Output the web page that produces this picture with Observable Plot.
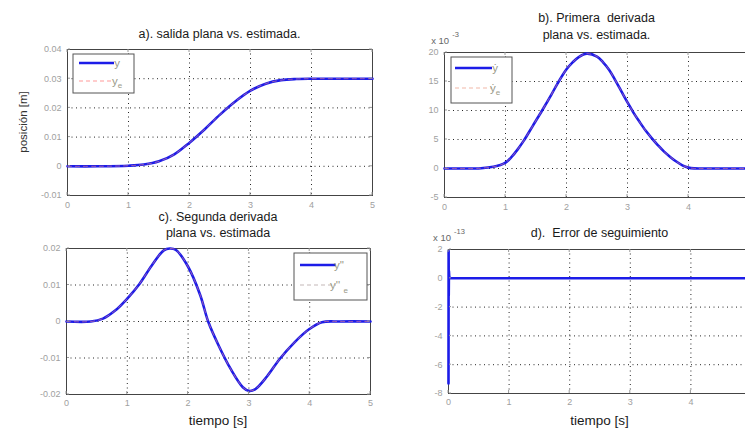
<!DOCTYPE html>
<html><head><meta charset="utf-8">
<script src="https://cdn.jsdelivr.net/npm/d3@7"></script>
<script src="https://cdn.jsdelivr.net/npm/@observablehq/plot@0.6"></script>
<style>
html,body{margin:0;padding:0;overflow:hidden;background:#fff;}
#wrap{position:relative;width:745px;height:429px;overflow:hidden;font-family:"Liberation Sans",Arial,sans-serif;}
#wrap svg{position:absolute;overflow:visible;}
</style></head><body><div id="wrap"></div>
<script>
// ---- data ----
const xTicksLeft = [0, 1, 2, 3, 4, 5];
const xTicksRight = [0, 1, 2, 3, 4];   // the "5" of the right column falls outside the picture

// a) flat output y and estimate y_e  [m]
const tA  = [0, 0.5, 1, 1.25, 1.5, 1.75, 2, 2.25, 2.5, 2.75, 3, 3.25, 3.5, 3.75, 4, 4.5, 5];
const yA  = [0, 0, 0.0002, 0.0006, 0.0017, 0.0041, 0.0081, 0.0127, 0.0177, 0.0222, 0.0259, 0.0283, 0.0295, 0.0299, 0.0300, 0.0300, 0.0300];
const yeA = [0, 0, 0.0002, 0.0006, 0.0017, 0.0041, 0.0081, 0.0127, 0.0177, 0.0222, 0.0259, 0.0283, 0.0295, 0.0299, 0.0300, 0.0300, 0.0300];
const yTicksA = [-0.01, 0, 0.01, 0.02, 0.03, 0.04];

// b) first derivative (x 10^-3)
const tB  = [0, 0.5, 0.6, 0.8, 0.9, 1, 1.1, 1.2, 1.3, 1.45, 1.6, 1.75, 1.85, 2, 2.1, 2.2, 2.33, 2.5, 2.6, 2.7, 2.8, 2.9, 3, 3.1, 3.2, 3.3, 3.4, 3.5, 3.6, 3.7, 3.8, 3.9, 4, 4.1, 4.2, 5];
const yB  = [0, 0, 0.05, 0.3, 0.55, 1.0, 2.0, 3.3, 4.8, 7.4, 10, 12.7, 14.6, 17.1, 18.3, 19.2, 19.8, 19.3, 18.3, 17.0, 15.2, 13.3, 11.4, 9.6, 8.0, 6.5, 5.2, 4.0, 2.9, 2.0, 1.2, 0.55, 0.15, 0.02, 0, 0];
const yeB = [0, 0, 0.05, 0.3, 0.55, 1.0, 2.0, 3.3, 4.8, 7.4, 10, 12.7, 14.6, 17.1, 18.3, 19.2, 19.8, 19.3, 18.3, 17.0, 15.2, 13.3, 11.4, 9.6, 8.0, 6.5, 5.2, 4.0, 2.9, 2.0, 1.2, 0.55, 0.15, 0.02, 0, 0];
const yTicksB = [-5, 0, 5, 10, 15, 20];

// c) second derivative
const tC  = [0, 0.4, 0.6, 0.8, 1, 1.2, 1.4, 1.6, 1.7, 1.8, 2, 2.2, 2.33, 2.5, 2.7, 2.9, 3, 3.1, 3.3, 3.5, 3.75, 4, 4.2, 4.5, 5];
const yC  = [0, 0, 0.0008, 0.003, 0.0063, 0.0103, 0.0153, 0.0195, 0.0200, 0.0196, 0.0150, 0.0072, 0, -0.0065, -0.0130, -0.0180, -0.0190, -0.0186, -0.0150, -0.0104, -0.0057, -0.0020, -0.0002, 0, 0];
const yeC = [0, 0, 0.0008, 0.003, 0.0063, 0.0103, 0.0153, 0.0195, 0.0200, 0.0196, 0.0150, 0.0072, 0, -0.0065, -0.0130, -0.0180, -0.0190, -0.0186, -0.0150, -0.0104, -0.0057, -0.0020, -0.0002, 0, 0];
const yTicksC = [-0.02, -0.01, 0, 0.01, 0.02];

// d) tracking error (x 10^-13)
const tD = [0, 0.002, 0.004, 0.007, 0.012, 0.03, 1, 2, 3, 4, 5];
const eD = [-7.3, 1.9, -1.2, 0.5, 0.1, 0, 0, 0, 0, 0, 0];
const yTicksD = [-8, -6, -4, -2, 0, 2];

// ---- drawing ----
const FONT = "Liberation Sans, Arial, sans-serif";
const wrap = document.getElementById("wrap");
const fmt = d => d === 0 ? "0" : String(+d.toFixed(3));

function panel(c) {
  const series = c.t.map((t, i) => ({t, y: c.y[i], ye: c.ye ? c.ye[i] : null}));
  const marks = [
    Plot.ruleX(c.gridX, {stroke: "#000", strokeDasharray: "1,3.5", strokeWidth: 1, strokeOpacity: 0.85}),
    Plot.ruleY(c.gridY, {stroke: "#000", strokeDasharray: "1,3.5", strokeWidth: 1, strokeOpacity: 0.85}),
    Plot.frame({stroke: "#444", strokeWidth: 1}),
    Plot.line(series, {x: "t", y: "y", stroke: "#1c1ce8", strokeWidth: 2.6, curve: c.curve || "catmull-rom"}),
  ];
  if (c.ye) marks.push(Plot.line(series, {x: "t", y: "ye", stroke: "#ff8a8a", strokeWidth: 1, strokeOpacity: 0.55, strokeDasharray: "4,4", curve: "catmull-rom"}));
  marks.push(
    Plot.axisX({ticks: c.xTicks, tickFormat: fmt, tickSize: 0, tickPadding: c.xPad, fontSize: 9, color: "#a0a0a0", fill: "#a0a0a0", label: null}),
    Plot.axisY({ticks: c.yTicks, tickFormat: fmt, tickSize: 0, tickPadding: 6, fontSize: 9, color: "#a0a0a0", fill: "#a0a0a0", label: null})
  );
  const chart = Plot.plot({
    width: c.w, height: c.h,
    marginLeft: c.m[3], marginRight: c.m[1], marginTop: c.m[0], marginBottom: c.m[2],
    x: {domain: [0, 5]}, y: {domain: c.yDomain},
    style: {fontFamily: FONT, background: "transparent", overflow: "visible"},
    marks
  });
  chart.style.left = c.left + "px";
  chart.style.top = c.top + "px";
  wrap.appendChild(chart);
  const svg = d3.select(chart);
  const sx = chart.scale("x"), sy = chart.scale("y");
  // small inward ticks (MATLAB style)
  const x0 = sx.apply(0), x1 = sx.apply(5), y0 = sy.apply(c.yDomain[0]), y1 = sy.apply(c.yDomain[1]);
  const tg = svg.append("g").attr("stroke", "#999").attr("stroke-width", 1);
  c.xTicks.forEach(v => { const x = sx.apply(v);
    tg.append("line").attr("x1", x).attr("x2", x).attr("y1", y0).attr("y2", y0 - 3);
    tg.append("line").attr("x1", x).attr("x2", x).attr("y1", y1).attr("y2", y1 + 3); });
  c.yTicks.forEach(v => { const y = sy.apply(v);
    tg.append("line").attr("x1", x0 + 1).attr("x2", x0 + 3).attr("y1", y).attr("y2", y);
    tg.append("line").attr("x1", x1).attr("x2", x1 - 3).attr("y1", y).attr("y2", y); });
  // titles
  const cx = (x0 + x1) / 2;
  c.title.forEach((line, i) => svg.append("text").attr("x", cx).attr("y", c.titleY[i])
    .attr("text-anchor", "middle").attr("font-size", 12.5).attr("fill", "#1a1a1a").attr("font-family", FONT).text(line));
  if (c.xlabel) svg.append("text").attr("x", cx).attr("y", c.xlabelY).attr("text-anchor", "middle")
    .attr("font-size", 13.5).attr("fill", "#1a1a1a").attr("font-family", FONT).text(c.xlabel);
  if (c.ylabel) svg.append("text").attr("transform", `translate(${c.ylabelX},${(y0 + y1) / 2}) rotate(-90)`)
    .attr("text-anchor", "middle").attr("font-size", 11.5).attr("fill", "#333").attr("font-family", FONT).text(c.ylabel);
  if (c.mult) {
    const t = svg.append("text").attr("x", x0 + 1).attr("y", y1 - 8).attr("font-size", 9.5).attr("fill", "#666").attr("font-family", FONT);
    t.append("tspan").text("x 10");
    t.append("tspan").attr("dx", 3).attr("dy", -7).attr("font-size", 7.5).text(c.mult);
  }
  if (c.legend) {
    const L = c.legend;
    const g = svg.append("g");
    g.append("rect").attr("x", L.x).attr("y", L.y).attr("width", L.w).attr("height", L.h)
      .attr("fill", "#fff").attr("stroke", "#555").attr("stroke-width", 1);
    L.items.forEach(it => {
      g.append("line").attr("x1", L.lx1).attr("x2", L.lx2).attr("y1", it.y).attr("y2", it.y)
        .attr("stroke", it.color).attr("stroke-width", it.width).attr("stroke-dasharray", it.dash || null);
      const t = g.append("text").attr("x", L.lx2 + 3).attr("y", it.y + 4).attr("font-size", 11.5)
        .attr("fill", "#9a9a88").attr("font-family", FONT);
      it.parts.forEach(p => { const s = t.append("tspan").text(p.s);
        if (p.dy) s.attr("dy", p.dy); if (p.dx) s.attr("dx", p.dx); if (p.fs) s.attr("font-size", p.fs); });
    });
  }
  return chart;
}

// a)
panel({left: 0, top: 0, w: 380, h: 215, m: [49, 8, 20, 67], xTicks: xTicksLeft,
  t: tA, y: yA, ye: yeA, yDomain: [-0.01, 0.04], yTicks: yTicksA, gridX: [1, 2, 3, 4], gridY: [0, 0.01, 0.02, 0.03],
  xPad: 6, title: ["a). salida plana vs. estimada."], titleY: [38], ylabel: "posición [m]", ylabelX: 27,
  legend: {x: 73, y: 54, w: 61, h: 39, lx1: 79, lx2: 114, items: [
    {y: 63, color: "#1c1ce8", width: 2.6, parts: [{s: "y"}]},
    {y: 81, color: "#ff9a9a", width: 1.2, dash: "4,3", parts: [{s: "y"}, {s: "e", fs: 8, dy: 3}]}
  ]}});

// b)
panel({left: 380, top: 0, w: 370, h: 215, m: [52, 1, 18, 64], xTicks: xTicksRight,
  t: tB, y: yB, ye: yeB, yDomain: [-5, 20], yTicks: yTicksB, gridX: [1, 2, 3, 4], gridY: [0, 5, 10, 15],
  xPad: 6, title: ["b). Primera  derivada", "plana vs. estimada."], titleY: [22, 39], mult: "-3",
  legend: {x: 71, y: 57, w: 61, h: 46, lx1: 75, lx2: 112, items: [
    {y: 68, color: "#1c1ce8", width: 2.6, parts: [{s: "ẏ"}]},
    {y: 88, color: "#f2b8a8", width: 1.2, dash: "4,3", parts: [{s: "ẏ"}, {s: "e", fs: 8, dy: 3}]}
  ]}});

// c)
panel({left: 0, top: 205, w: 380, h: 224, m: [43, 10, 35, 66], xTicks: xTicksLeft,
  t: tC, y: yC, ye: yeC, yDomain: [-0.02, 0.02], yTicks: yTicksC, gridX: [1, 2, 3, 4], gridY: [-0.01, 0, 0.01],
  xPad: 5, title: ["c). Segunda derivada", "plana vs. estimada"], titleY: [16, 32], xlabel: "tiempo [s]", xlabelY: 220,
  legend: {x: 294, y: 48, w: 73, h: 47, lx1: 300, lx2: 336, items: [
    {y: 60, color: "#1c1ce8", width: 2.6, parts: [{s: "y''"}]},
    {y: 80, color: "#c4b8b8", width: 1.2, dash: "4,3", parts: [{s: "y'' "}, {s: "e", fs: 8, dy: 4}]}
  ]}});

// d)
panel({left: 380, top: 205, w: 371, h: 224, m: [44, 0, 36, 68], xTicks: xTicksRight,
  t: tD, y: eD, ye: null, yDomain: [-8, 2], yTicks: yTicksD, gridX: [1, 2, 3, 4], gridY: [-6, -4, -2],
  xPad: 5, curve: "linear", title: ["d).  Error de seguimiento"], titleY: [32], xlabel: "tiempo [s]", xlabelY: 220, mult: "-13"});
</script>
</body></html>
